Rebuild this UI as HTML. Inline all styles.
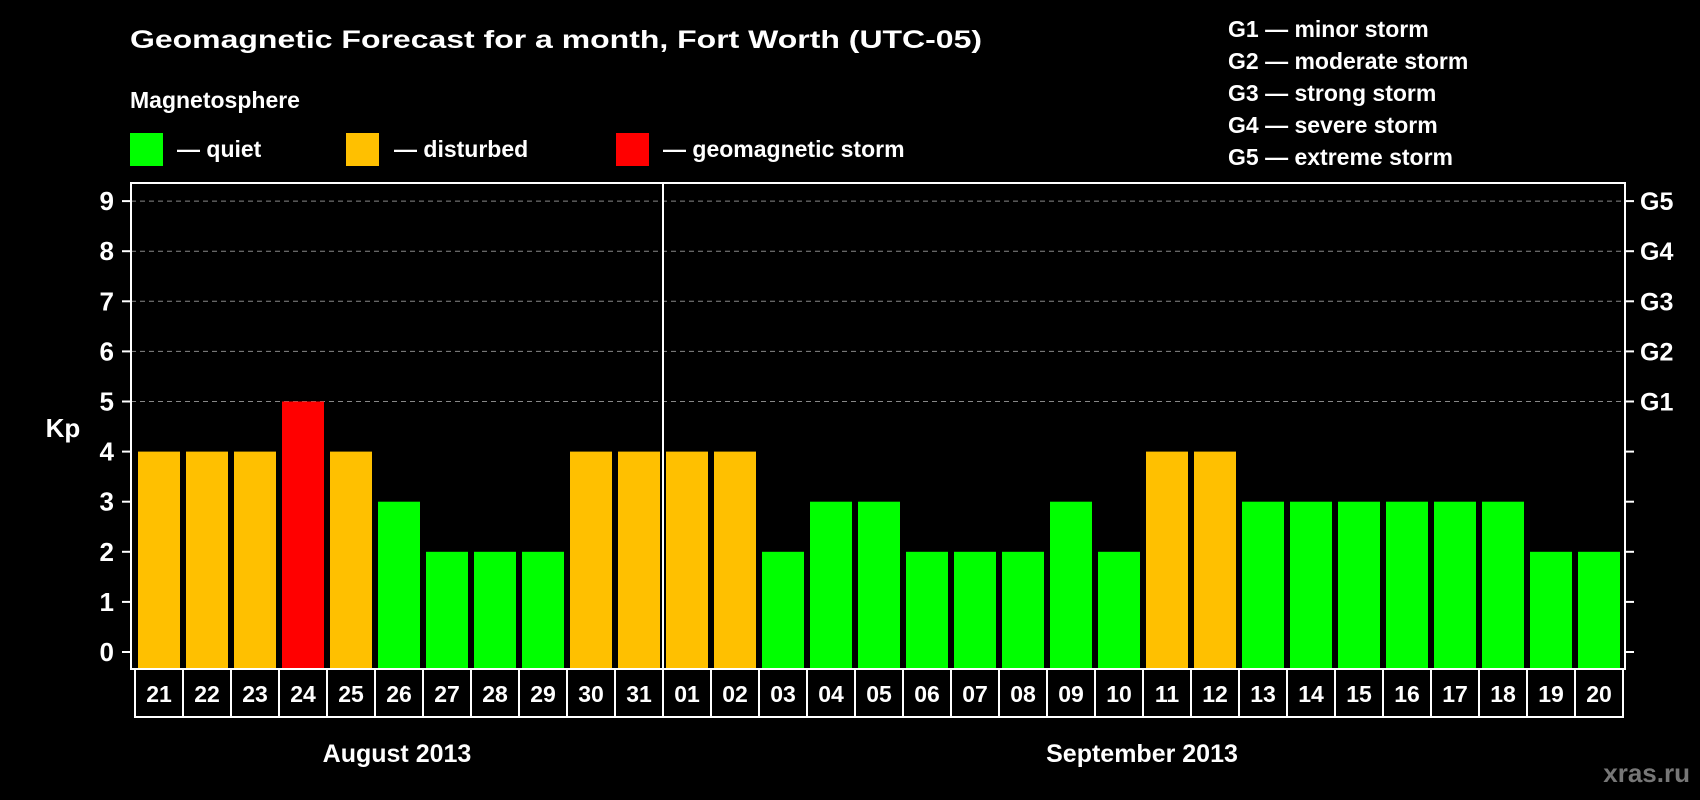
<!DOCTYPE html>
<html><head><meta charset="utf-8"><style>
html,body{margin:0;padding:0;background:#000;}
svg{display:block;font-family:"Liberation Sans",Arial,sans-serif;font-weight:bold;}
</style></head><body>
<svg id="chart" width="1700" height="800" viewBox="0 0 1700 800" xmlns="http://www.w3.org/2000/svg">
<rect width="1700" height="800" fill="#000"/>
<text x="130" y="48" fill="#fff" font-size="25" textLength="852" lengthAdjust="spacingAndGlyphs">Geomagnetic Forecast for a month, Fort Worth (UTC-05)</text>
<text x="130" y="108" fill="#fff" font-size="23">Magnetosphere</text>
<g><rect x="130" y="133" width="33" height="33" fill="#00ff00"/><text x="177" y="157" fill="#fff" font-size="23">— quiet</text></g>
<g><rect x="346" y="133" width="33" height="33" fill="#ffc000"/><text x="394" y="157" fill="#fff" font-size="23">— disturbed</text></g>
<g><rect x="616" y="133" width="33" height="33" fill="#ff0000"/><text x="663" y="157" fill="#fff" font-size="23">— geomagnetic storm</text></g>
<g fill="#fff" font-size="23">
<text x="1228" y="37">G1 — minor storm</text>
<text x="1228" y="69">G2 — moderate storm</text>
<text x="1228" y="101">G3 — strong storm</text>
<text x="1228" y="133">G4 — severe storm</text>
<text x="1228" y="165">G5 — extreme storm</text>
</g>
<text x="63" y="437" fill="#fff" font-size="26" text-anchor="middle">Kp</text>
<g id="grid"></g><g id="bars"></g><g id="axes"></g><g id="dates"></g>
<text x="397" y="762" fill="#fff" font-size="25" text-anchor="middle">August 2013</text>
<text x="1142" y="762" fill="#fff" font-size="25" text-anchor="middle">September 2013</text>
<text x="1690" y="782" fill="#777" font-size="26" text-anchor="end">xras.ru</text>
</svg>
<script>
const days = ["21","22","23","24","25","26","27","28","29","30","31","01","02","03","04","05","06","07","08","09","10","11","12","13","14","15","16","17","18","19","20"];
const kp = [4,4,4,5,4,3,2,2,2,4,4,4,4,2,3,3,2,2,2,3,2,4,4,3,3,3,3,3,3,2,2];
const yTicks = [0,1,2,3,4,5,6,7,8,9];
const gLabels = ["G1","G2","G3","G4","G5"];
const gLevels = [5,6,7,8,9];
const NS="http://www.w3.org/2000/svg";
const L=131,R=1625,T=183,B=669,y0=652,unit=50.1,x0=138,step=48,bw=42,cell0=135;
function y(v){return y0-v*unit;}
function x(i){return x0+i*step;}
function mk(tag,attrs,parent){const e=document.createElementNS(NS,tag);for(const k in attrs)e.setAttribute(k,attrs[k]);parent.appendChild(e);return e;}
const grid=document.getElementById('grid'),bars=document.getElementById('bars'),axes=document.getElementById('axes'),dates=document.getElementById('dates');
gLevels.forEach((v,i)=>{
  const ln=mk('line',{x1:L,x2:R,y1:y(v),y2:y(v),stroke:'#888','stroke-width':1,'stroke-dasharray':'5,4'},grid);
  
  
  const t=mk('text',{x:1640,y:y(v)+9,fill:'#fff','font-size':25},axes);
  t.textContent=gLabels[i];
  
  
});
kp.forEach((v,i)=>{
  const c=v>=5?'#ff0000':(v>=4?'#ffc000':'#00ff00');
  const r=mk('rect',{x:x(i),y:y(v),width:bw,height:B-1-y(v),fill:c},bars);
  
  
});
const frame=mk('rect',{x:L,y:T,width:R-L,height:B-T,fill:'none',stroke:'#fff','stroke-width':2},axes);


const sep=mk('line',{x1:663,x2:663,y1:T,y2:B,stroke:'#fff','stroke-width':2},axes);


yTicks.forEach(v=>{
  mk('line',{x1:122,x2:L,y1:y(v),y2:y(v),stroke:'#fff','stroke-width':2},axes);
  mk('line',{x1:R,x2:R+9,y1:y(v),y2:y(v),stroke:'#fff','stroke-width':2},axes);
  const t=mk('text',{x:114,y:y(v)+9,fill:'#fff','font-size':26,'text-anchor':'end'},axes);
  t.textContent=v;
  
  
});
days.forEach((d,i)=>{
  const cx=cell0+i*step;
  const r=mk('rect',{x:cx,y:B,width:step,height:48,fill:'none',stroke:'#fff','stroke-width':2},dates);
  
  
  const t=mk('text',{x:cx+step/2,y:B+33,fill:'#fff','font-size':23,'text-anchor':'middle'},dates);
  t.textContent=d;
  
  
});
</script>
</body></html>
